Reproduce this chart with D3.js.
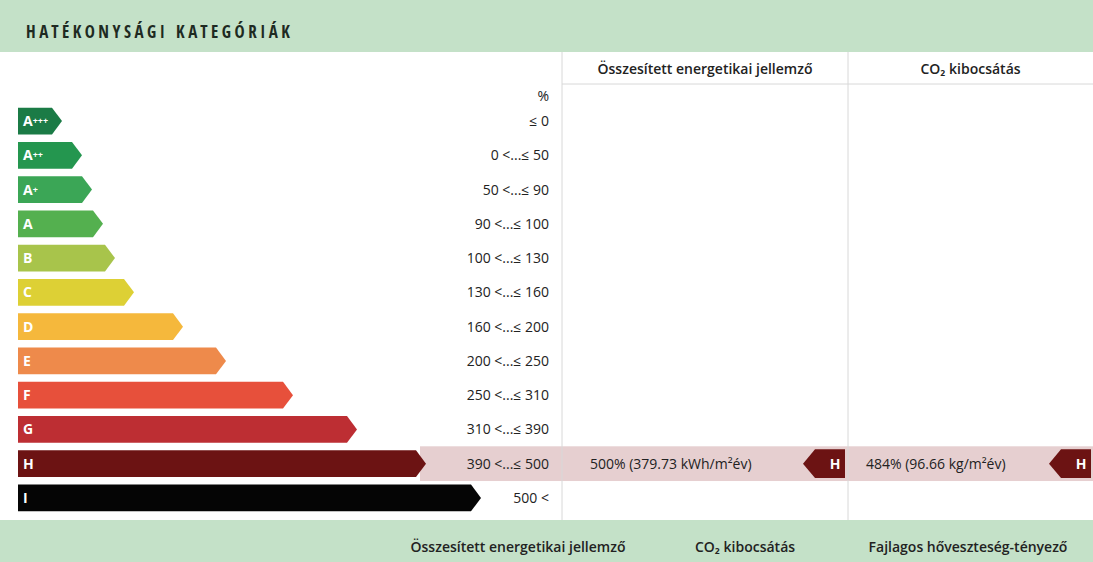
<!DOCTYPE html>
<html><head><meta charset="utf-8">
<script src="https://cdn.jsdelivr.net/npm/d3@7"></script>
<style>body{margin:0;background:#fff}svg{display:block;font-family:"Open Sans",sans-serif}</style>
</head><body><svg id="c" width="1093" height="562"></svg>
<script>
const categories=["A+++","A++","A+","A","B","C","D","E","F","G","H","I"];
const ranges=["≤ 0","0 <...≤ 50","50 <...≤ 90","90 <...≤ 100","100 <...≤ 130","130 <...≤ 160","160 <...≤ 200","200 <...≤ 250","250 <...≤ 310","310 <...≤ 390","390 <...≤ 500","500 <"];
const barLengths=[44,64,74,85,97,116,165,208,275,339,408,463];
const colors=["#1b7b46","#24964f","#3ba656","#54b04f","#a8c44b","#ddd035","#f5b83c","#ee8a4b","#e7503b","#bd2e33","#6c1313","#050505"];
const current={cat:"H",energy:"500% (379.73 kWh/m²év)",co2:"484% (96.66 kg/m²év)"};
const headers=["Összesített energetikai jellemző","CO₂ kibocsátás"];
const footer=["Összesített energetikai jellemző","CO₂ kibocsátás","Fajlagos hőveszteség-tényező"];

const svg=d3.select("#c");
const W=1093,H=562;
svg.append("rect").attr("width",W).attr("height",52).attr("fill","#c4e1c8");
svg.append("rect").attr("y",520).attr("width",W).attr("height",42).attr("fill","#c4e1c8");
svg.append("text").attr("x",26).attr("y",38).text("HATÉKONYSÁGI KATEGÓRIÁK").attr("font-weight",700).attr("font-size",17).attr("fill","#1e2a22").attr("font-family","'Open Sans Condensed','Liberation Sans Narrow',sans-serif").attr("textLength",264);

const y=d3.scaleBand().domain(categories).range([106,513]).paddingInner(0.22).paddingOuter(0.05);
const x=d3.scaleLinear().domain([0,463]).range([18,481]);
const c1=562,c2=848;
// highlight row
const hy=y(current.cat)-4, hh=y.bandwidth()+8;
svg.append("rect").attr("x",420).attr("y",hy).attr("width",W-420).attr("height",hh).attr("fill","#e6cfd0");
// grid lines
[c1,c2].forEach(cx=>svg.append("line").attr("x1",cx).attr("x2",cx).attr("y1",52).attr("y2",520).attr("stroke","#d8d8d8"));
svg.append("line").attr("x1",c1).attr("x2",W).attr("y1",84).attr("y2",84).attr("stroke","#d8d8d8");
svg.append("text").attr("x",(c1+c2)/2).attr("y",74).attr("text-anchor","middle").attr("font-size",14).attr("font-weight",600).attr("fill","#222").text(headers[0]);
svg.append("text").attr("x",(c2+W)/2).attr("y",74).attr("text-anchor","middle").attr("font-size",14).attr("font-weight",600).attr("fill","#222").text(headers[1]);
svg.append("text").attr("x",549).attr("y",101).attr("text-anchor","end").attr("font-size",14).attr("fill","#222").text("%");

const tip=10;
const g=svg.selectAll("g.bar").data(categories).join("g");
g.append("path").attr("fill",(d,i)=>colors[i]).attr("d",(d,i)=>{
  const x0=x(0),x1=x(barLengths[i]),t=y(d),b=t+y.bandwidth(),m=(t+b)/2;
  return `M${x0},${t}L${x1-tip},${t}L${x1},${m}L${x1-tip},${b}L${x0},${b}Z`;});
g.append("text").attr("x",x(0)+5).attr("y",d=>y(d)+y.bandwidth()/2+5).attr("fill","#fff").attr("font-weight",700).attr("font-size",14)
 .each(function(d){const s=d3.select(this);s.append("tspan").text(d[0]);if(d.length>1)s.append("tspan").attr("font-size",9).attr("dy",-2).text(d.slice(1));});
g.append("text").attr("x",549).attr("y",d=>y(d)+y.bandwidth()/2+5).attr("text-anchor","end").attr("font-size",14).attr("fill","#222").text((d,i)=>ranges[i]);

// markers
const ci=categories.indexOf(current.cat);
function marker(xr){const t=y(current.cat)-1,b=t+y.bandwidth()+2,m=(t+b)/2,xl=xr-42;
  svg.append("path").attr("fill",colors[ci]).attr("d",`M${xl},${m}L${xl+12},${t}L${xr},${t}L${xr},${b}L${xl+12},${b}Z`);
  svg.append("text").attr("x",xr-10).attr("y",m+5).attr("text-anchor","middle").attr("fill","#fff").attr("font-weight",700).attr("font-size",14).text(current.cat);}
marker(845);marker(1091);
const my=y(current.cat)+y.bandwidth()/2+5;
svg.append("text").attr("x",590).attr("y",my).attr("font-size",14).attr("fill","#222").text(current.energy);
svg.append("text").attr("x",866).attr("y",my).attr("font-size",14).attr("fill","#222").text(current.co2);
[[518,footer[0]],[745,footer[1]],[968,footer[2]]].forEach(([cx,t])=>svg.append("text").attr("x",cx).attr("y",552).attr("text-anchor","middle").attr("font-size",14).attr("font-weight",600).attr("fill","#222").text(t));
</script></body></html>
